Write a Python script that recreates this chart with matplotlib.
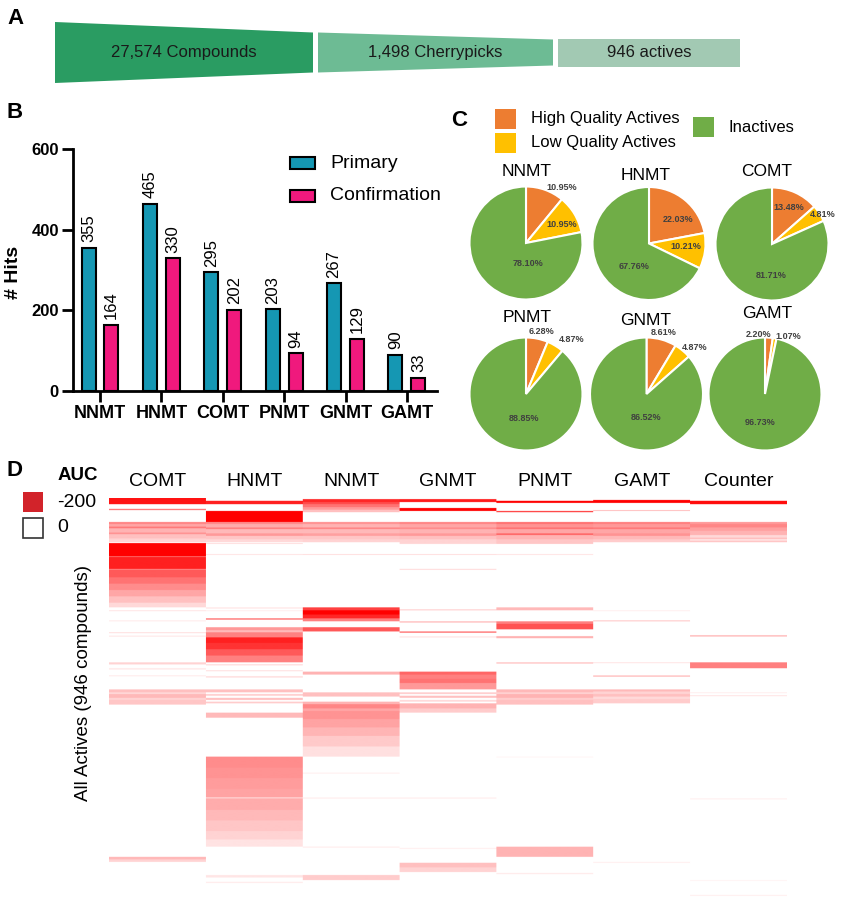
import numpy as np
import matplotlib
matplotlib.use('Agg')
import matplotlib.pyplot as plt
from matplotlib.patches import Polygon, Rectangle
from matplotlib.colors import LinearSegmentedColormap
from matplotlib import font_manager

plt.rcParams['font.family'] = ['Liberation Sans', 'DejaVu Sans']

# ---------------- data ----------------
funnel_labels = ["27,574 Compounds", "1,498 Cherrypicks", "946 actives"]
funnel_colors = ['#2A9C62', '#6DBB94', '#A2C9B3']

bar_categories = ['NNMT', 'HNMT', 'COMT', 'PNMT', 'GNMT', 'GAMT']
primary = [355, 465, 295, 203, 267, 90]
confirmation = [164, 330, 202, 94, 129, 33]
bar_series = ['Primary', 'Confirmation']

pie_names = ['NNMT', 'HNMT', 'COMT', 'PNMT', 'GNMT', 'GAMT']
high_quality = [10.95, 22.03, 13.48, 6.28, 8.61, 2.20]
low_quality = [10.95, 10.21, 4.81, 4.87, 4.87, 1.07]
inactives = [78.10, 67.76, 81.71, 88.85, 86.52, 96.73]
pie_legend = ['High Quality Actives', 'Low Quality Actives', 'Inactives']
pie_colors = ['#ED7D31', '#FFC000', '#70AD47']

heat_cols = ['COMT', 'HNMT', 'NNMT', 'GNMT', 'PNMT', 'GAMT', 'Counter']
n_compounds = 946
# (first row, last row, AUC) blocks per assay, rows sorted as in the figure
comt_bands = [(0, 17, -185), (28, 31, -110),
              (59, 64, -95), (64, 70, -70), (70, 74, -105), (74, 84, -60), (84, 88, -85), (88, 98, -50), (98, 107, -35),
              (109, 140, -200), (140, 142, -110), (142, 170, -175), (170, 172, -90), (172, 190, -130), (190, 205, -110),
              (205, 220, -90), (220, 235, -70), (235, 250, -50), (250, 261, -30),
              (268, 270, -25), (292, 294, -20), (320, 322, -30), (328, 330, -25), (391, 396, -35), (405, 408, -20),
              (422, 424, -20),
              (455, 462, -50), (462, 466, -30), (466, 475, -55), (475, 480, -35), (480, 491, -45),
              (851, 857, -55), (857, 863, -35)]
hnmt_bands = [(9, 17, -175), (33, 59, -200),
              (59, 64, -90), (64, 72, -65), (72, 76, -100), (76, 86, -55), (86, 92, -80), (92, 100, -45), (100, 107, -30),
              (109, 111, -30), (135, 137, -25), (261, 264, -20), (268, 270, -15), (287, 290, -120),
              (308, 315, -80), (315, 320, -55), (320, 332, -100), (332, 345, -175), (345, 360, -160), (360, 375, -130),
              (375, 391, -100),
              (396, 398, -40), (410, 412, -30), (424, 427, -30),
              (455, 462, -50), (466, 470, -40), (475, 480, -50), (484, 488, -40), (510, 522, -55),
              (614, 640, -90), (640, 665, -85), (665, 690, -78), (690, 710, -72), (710, 713, -35), (713, 740, -65),
              (740, 765, -55), (765, 790, -45), (790, 810, -35), (810, 827, -22),
              (894, 900, -20), (910, 913, -15)]
nnmt_bands = [(5, 12, -170), (12, 17, -140), (17, 24, -110), (24, 30, -80), (30, 36, -50),
              (59, 64, -85), (64, 72, -60), (72, 76, -95), (76, 86, -55), (86, 92, -75), (92, 100, -45), (100, 107, -35),
              (135, 137, -30),
              (261, 268, -150), (268, 278, -200), (278, 287, -170), (287, 294, -100),
              (308, 318, -130), (413, 420, -60), (462, 472, -50),
              (484, 490, -60), (490, 500, -95), (500, 506, -70), (506, 525, -85), (525, 545, -72), (545, 565, -58),
              (565, 590, -42), (590, 614, -25),
              (652, 654, -15), (711, 713, -20), (827, 829, -20), (894, 906, -40)]
gnmt_bands = [(5, 12, -180), (26, 33, -200),
              (59, 64, -95), (64, 72, -70), (72, 76, -90), (76, 86, -60), (86, 92, -80), (92, 100, -50), (100, 111, -35),
              (135, 137, -30), (170, 172, -35), (266, 268, -50), (294, 297, -55), (318, 321, -120), (330, 332, -30),
              (413, 420, -120), (420, 430, -100), (430, 440, -110), (440, 455, -80),
              (462, 466, -40), (470, 475, -50), (480, 484, -30), (488, 500, -60), (500, 510, -40),
              (711, 713, -20), (830, 832, -15), (865, 876, -50), (876, 887, -35)]
pnmt_bands = [(9, 14, -200), (33, 36, -150),
              (59, 64, -110), (64, 72, -85), (72, 76, -110), (76, 86, -70), (86, 90, -120), (90, 100, -60), (100, 111, -45),
              (135, 137, -25), (261, 268, -55), (294, 300, -100), (300, 313, -135), (329, 334, -60), (391, 394, -50),
              (455, 462, -55), (462, 466, -35), (466, 475, -60), (475, 480, -40), (480, 491, -50),
              (614, 616, -10), (827, 851, -60), (889, 892, -15)]
gamt_bands = [(7, 14, -200), (31, 33, -60),
              (59, 64, -100), (64, 72, -80), (72, 76, -105), (76, 86, -70), (86, 92, -85), (92, 100, -55), (100, 107, -40),
              (268, 270, -15), (292, 294, -55), (391, 393, -25), (422, 425, -55),
              (455, 460, -55), (460, 466, -35), (466, 472, -50), (472, 478, -30), (478, 488, -40),
              (863, 865, -15)]
counter_bands = [(9, 17, -190),
                 (59, 64, -80), (64, 72, -95), (72, 80, -75), (80, 90, -60), (90, 96, -30), (96, 100, -50),
                 (100, 103, -15), (103, 107, -45),
                 (327, 330, -60), (391, 405, -100), (462, 464, -15), (469, 471, -25), (713, 715, -15),
                 (906, 908, -10), (941, 943, -15)]
all_bands = [comt_bands, hnmt_bands, nnmt_bands, gnmt_bands, pnmt_bands, gamt_bands, counter_bands]

# ---------------- layout helpers ----------------
W, H = 841, 900
fig = plt.figure(figsize=(W / 100, H / 100), dpi=100)


def fx(x):
    return x / W


def fy(y):
    return 1 - y / H


def panel_label(x, y, s):
    fig.text(fx(x), fy(y), s, fontsize=16, fontweight='bold', ha='center', va='center')


# ---------------- Panel A: funnel ----------------
panel_label(15, 18, 'A')
ax_f = fig.add_axes([0, fy(100), 1, 100 / H])
ax_f.set_xlim(0, W)
ax_f.set_ylim(100, 0)
ax_f.axis('off')
funnel_x = [(55, 313), (318, 553), (558, 740)]
funnel_h = [(61, 40), (40, 26), (28, 28)]
cy = 52.5
narrow = 'Liberation Sans Narrow'
try:
    font_manager.findfont(narrow, fallback_to_default=False)
    ffam = [narrow, 'DejaVu Sans']
except Exception:
    ffam = ['Liberation Sans', 'DejaVu Sans']
for lab, col, (x0, x1), (h0, h1) in zip(funnel_labels, funnel_colors, funnel_x, funnel_h):
    ax_f.add_patch(Polygon([(x0, cy - h0 / 2), (x1, cy - h1 / 2), (x1, cy + h1 / 2), (x0, cy + h0 / 2)],
                           closed=True, facecolor=col, edgecolor='none'))
    ax_f.text((x0 + x1) / 2, cy, lab, ha='center', va='center', fontsize=12, family=ffam, color='#1a1a1a')

# ---------------- Panel B: bars ----------------
panel_label(15, 113, 'B')
ax_b = fig.add_axes([fx(72.7), fy(391), (437 - 72.7) / W, (391 - 149.3) / H])
xi = np.arange(len(bar_categories))
bw, off = 0.228, 0.187
teal, pink = '#1597B3', '#F0197D'
b1 = ax_b.bar(xi - off, primary, bw, color=teal, edgecolor='black', linewidth=1.5, zorder=3)
b2 = ax_b.bar(xi + off, confirmation, bw, color=pink, edgecolor='black', linewidth=1.5, zorder=3)
for bars, vals in ((b1, primary), (b2, confirmation)):
    for rect, v in zip(bars, vals):
        ax_b.annotate(str(v), (rect.get_x() + rect.get_width() / 2, v), xytext=(0, 4),
                      textcoords='offset points', rotation=90, ha='center', va='bottom', fontsize=12)
ax_b.set_xlim(-0.445, 5.49)
ax_b.set_ylim(0, 600)
ax_b.set_yticks([0, 200, 400, 600])
ax_b.set_xticks(xi)
ax_b.set_xticklabels(bar_categories, fontsize=13, fontweight='bold')
for t in ax_b.get_yticklabels():
    t.set_fontsize(12)
    t.set_fontweight('bold')
ax_b.tick_params(axis='both', length=8, width=2, pad=2)
for s in ('top', 'right'):
    ax_b.spines[s].set_visible(False)
for s in ('left', 'bottom'):
    ax_b.spines[s].set_linewidth(2)
ax_b.spines['left'].set_bounds(0, 600)
fig.text(fx(14), fy(272), '# Hits', rotation=90, fontsize=14, fontweight='bold', ha='center', va='center')
# legend (manual)
for name, col, y in zip(bar_series, [teal, pink], [163, 196]):
    fig.patches.append(Rectangle((fx(290), fy(y + 6)), 25 / W, 12 / H, transform=fig.transFigure,
                                 facecolor=col, edgecolor='black', linewidth=1.5))
    fig.text(fx(330), fy(y), name, fontsize=14, ha='left', va='center')

# ---------------- Panel C: pies ----------------
panel_label(459, 121, 'C')
leg_sq = [(495, 109), (495, 133), (693, 117)]
leg_tx = [(531, 118), (531, 143), (729, 127)]
for name, col, (sx, sy), (tx, ty) in zip(pie_legend, pie_colors, leg_sq, leg_tx):
    fig.patches.append(Rectangle((fx(sx), fy(sy + 20)), 21 / W, 20 / H, transform=fig.transFigure,
                                 facecolor=col, edgecolor='none'))
    fig.text(fx(tx), fy(ty), name, fontsize=12, ha='left', va='center')

R = 56.5
K = 1.35
pie_centers = [(526, 243), (649, 243.5), (772, 244), (526, 394), (646.5, 394), (765, 394)]
title_pos = [(527, 172), (646, 176), (767, 171), (527, 317), (646, 320), (767, 314)]
label_off = [
    [(0.63, 0.98), (0.63, 0.32), (0.04, -0.37)],
    [(0.51, 0.42), (0.65, -0.05), (-0.26, -0.40)],
    [(0.30, 0.65), (0.89, 0.53), (-0.02, -0.56)],
    [(0.28, 1.10), (0.81, 0.96), (-0.04, -0.44)],
    [(0.30, 1.08), (0.85, 0.83), (0.0, -0.42)],
    [(-0.12, 1.06), (0.41, 1.01), (-0.09, -0.51)],
]
for i, name in enumerate(pie_names):
    cx, cyp = pie_centers[i]
    size = 2 * R * K
    axp = fig.add_axes([fx(cx - size / 2), fy(cyp + size / 2), size / W, size / H])
    vals = [high_quality[i], low_quality[i], inactives[i]]
    axp.pie(vals, colors=pie_colors, startangle=90, counterclock=False, radius=1,
            wedgeprops=dict(edgecolor='white', linewidth=1.5))
    axp.set_xlim(-K, K)
    axp.set_ylim(-K, K)
    axp.set_aspect('equal')
    axp.axis('off')
    for v, (dx, dy) in zip(vals, label_off[i]):
        axp.text(dx, dy, f'{v:.2f}%', ha='center', va='center', fontsize=6.5,
                 fontweight='bold', color='#404040')
    tx, ty = title_pos[i]
    fig.text(fx(tx), fy(ty), name, fontsize=12.5, ha='center', va='center')

# ---------------- Panel D: heatmap ----------------
panel_label(15, 470, 'D')
mat = np.zeros((n_compounds, len(heat_cols)))
for j, bands in enumerate(all_bands):
    for r0, r1, v in bands:
        mat[r0:r1, j] = v
cmap = LinearSegmentedColormap.from_list('auc', ['#FF0000', '#FFFFFF'])
hx0, hx1, hy0, hy1 = 109, 787, 498, 897
ax_h = fig.add_axes([fx(hx0), fy(hy1), (hx1 - hx0) / W, (hy1 - hy0) / H])
# widen each assay column so cells keep hard vertical edges when drawn
colpx = int(round((hx1 - hx0) / len(heat_cols)))
img = np.repeat(mat, colpx, axis=1)
ax_h.imshow(img, aspect='auto', cmap=cmap, vmin=-200, vmax=0, interpolation='antialiased')
ax_h.axis('off')
colw = (hx1 - hx0) / len(heat_cols)
for j, name in enumerate(heat_cols):
    fig.text(fx(hx0 + colw * (j + 0.5)), fy(481), name, fontsize=14, ha='center', va='center')

fig.text(fx(78), fy(476), 'AUC', fontsize=13.5, fontweight='bold', ha='center', va='center')
fig.patches.append(Rectangle((fx(23), fy(512)), 20 / W, 20 / H, transform=fig.transFigure,
                             facecolor='#D2232A', edgecolor='none'))
fig.patches.append(Rectangle((fx(23), fy(538)), 20 / W, 20 / H, transform=fig.transFigure,
                             facecolor='white', edgecolor='#333333', linewidth=1.2))
fig.text(fx(57), fy(502), '-200', fontsize=14, ha='left', va='center')
fig.text(fx(57), fy(527), '0', fontsize=14, ha='left', va='center')
fig.text(fx(83), fy(683), 'All Actives (946 compounds)', rotation=90, fontsize=13.5, ha='center', va='center')

fig.savefig('out.png', dpi=100)
